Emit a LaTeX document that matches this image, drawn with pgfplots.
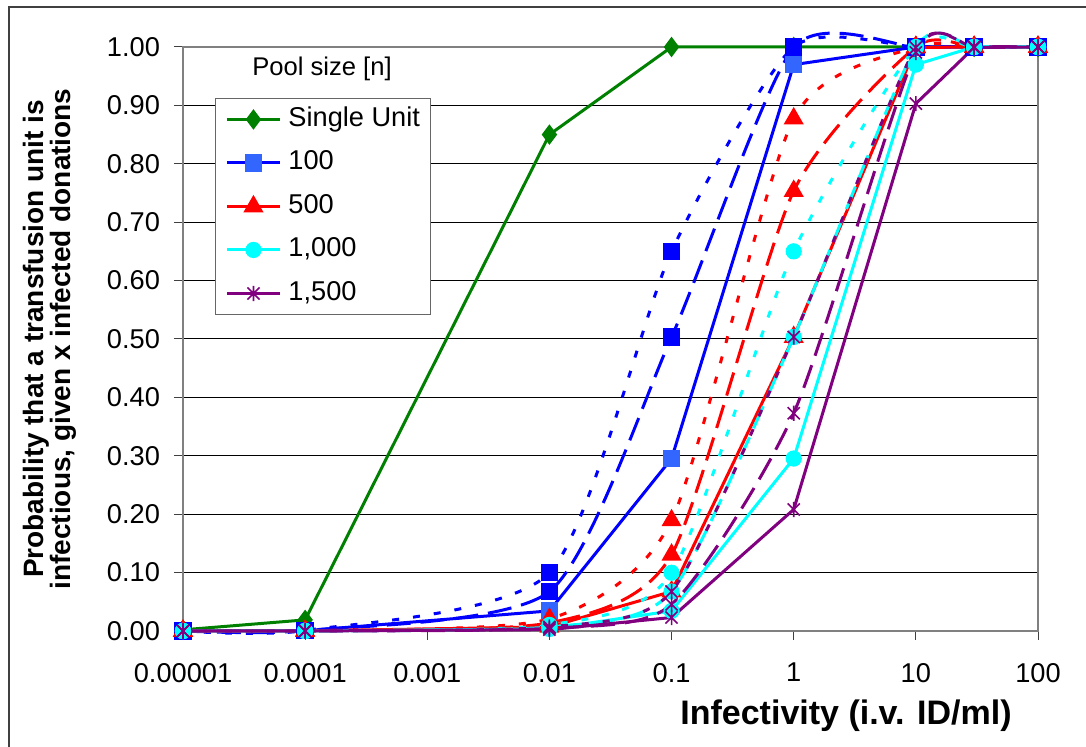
\documentclass[border=0pt]{standalone}
\usepackage{pgfplots}
\pgfplotsset{compat=1.18}
\usepackage{pgfplotstable}
\usepackage{fontspec}
\setmainfont{Liberation Sans}

\definecolor{xlgreen}{RGB}{0,128,0}
\definecolor{xlblue}{RGB}{0,0,255}
\definecolor{xlsky}{RGB}{51,102,255}
\definecolor{xlred}{RGB}{255,0,0}
\definecolor{xlcyan}{RGB}{0,255,255}
\definecolor{xlpurple}{RGB}{128,0,128}

% Excel-style star: X with a vertical stroke
\pgfdeclareplotmark{xstar}{%
  \pgfpathmoveto{\pgfqpoint{0pt}{-\pgfplotmarksize}}%
  \pgfpathlineto{\pgfqpoint{0pt}{\pgfplotmarksize}}%
  \pgfpathmoveto{\pgfqpoint{-.8\pgfplotmarksize}{-.8\pgfplotmarksize}}%
  \pgfpathlineto{\pgfqpoint{.8\pgfplotmarksize}{.8\pgfplotmarksize}}%
  \pgfpathmoveto{\pgfqpoint{-.8\pgfplotmarksize}{.8\pgfplotmarksize}}%
  \pgfpathlineto{\pgfqpoint{.8\pgfplotmarksize}{-.8\pgfplotmarksize}}%
  \pgfusepathqstroke}

% columns: a = pool 100, b = 500, c = 1,000, d = 1,500; 1/2/3 = infected donations
\pgfplotstableread{
x     su     a1     a2     a3     b1     b2     b3     c1     c2     c3     d1     d2     d3
1e-5  0.002  0.0000 0.0001 0.0001 0.0000 0.0000 0.0000 0.0000 0.0000 0.0000 0.0000 0.0000 0.0000
1e-4  0.019  0.0004 0.0007 0.0010 0.0001 0.0001 0.0002 0.0000 0.0001 0.0001 0.0000 0.0000 0.0001
0.01  0.850  0.0344 0.0676 0.0997 0.0070 0.0139 0.0208 0.0035 0.0070 0.0104 0.0023 0.0047 0.0070
0.1   1.000  0.2953 0.5034 0.6501 0.0676 0.1306 0.1894 0.0344 0.0676 0.0997 0.0231 0.0456 0.0676
1     1.000  0.9698 0.9991 1.0000 0.5034 0.7534 0.8775 0.2953 0.5034 0.6501 0.2081 0.3729 0.5034
10    1.000  1.0000 1.0000 1.0000 0.9991 1.0000 1.0000 0.9698 0.9991 1.0000 0.9030 0.9906 0.9991
30    1.000  1.0000 1.0000 1.0000 1.0000 1.0000 1.0000 1.0000 1.0000 1.0000 0.9991 1.0000 1.0000
100   1.000  1.0000 1.0000 1.0000 1.0000 1.0000 1.0000 1.0000 1.0000 1.0000 1.0000 1.0000 1.0000
}\prob

\begin{document}
\begin{tikzpicture}[
  ln/.style={line width=1.5pt},
  dsh/.style={line width=1.5pt, smooth, tension=0.4, dash pattern=on 12pt off 5pt},
  dot/.style={line width=1.5pt, smooth, tension=0.4, dash pattern=on 3.5pt off 7pt}]
\useasboundingbox (0,0) rectangle (543pt,373.5pt);
\draw[black!75, line width=1pt] (4.5pt,0pt) -- (4.5pt,370pt) -- (543pt,370pt);

\begin{axis}[at={(91.5pt,58pt)}, anchor=south west,
  scale only axis, width=427.5pt, height=292pt,
  xmode=log, xmin=1e-5, xmax=100, ymin=0, ymax=1,
  xtick={1e-5,1e-4,1e-3,1e-2,1e-1,1,10,100},
  xticklabels={0.00001,0.0001,0.001,0.01,0.1,1,10,100},
  xminorticks=false,
  ytick={0,0.1,0.2,0.3,0.4,0.5,0.6,0.7,0.8,0.9,1},
  /pgf/number format/assume math mode=true,
  ymajorgrids, grid style={black, line width=0.5pt},
  axis line style={gray, line width=0.75pt},
  tick align=outside, major tick length=4.5pt,
  tick style={black!75, line width=0.5pt},
  xtick pos=bottom, ytick pos=left,
  tick label style={font=\fontsize{13.6}{16}\selectfont},
  yticklabel style={/pgf/number format/fixed,/pgf/number format/fixed zerofill,
    /pgf/number format/precision=2, xshift=-3.5pt},
  xticklabel style={yshift=-8pt},
  clip=false,
  legend style={at={(0.0374,0.9127)}, anchor=north west,
    draw=black!60, line width=0.5pt, fill=white,
    font=\fontsize{13.6}{16}\selectfont,
    inner xsep=5pt, inner ysep=4pt, row sep=8.75pt, column sep=3.5pt,
    nodes={inner sep=0pt, text height=10pt, text depth=3pt}},
  legend cell align=left,
  legend image code/.code={\draw[mark repeat=2,mark phase=2]
    plot coordinates {(0pt,0pt) (13.25pt,0pt) (26.5pt,0pt)};},
  ]
\addplot[xlgreen, ln, mark=diamond*, mark size=3.9pt] table[y=su]{\prob};
% pool 100
\addplot[xlblue, ln, mark=square*, mark size=3.6pt,
  mark options={fill=xlsky, draw=xlsky}] table[y=a1]{\prob};
\addplot[xlblue, dsh, mark=square*, mark size=3.6pt,
  mark options={solid}, forget plot] table[y=a2]{\prob};
\addplot[xlblue, dot, mark=square*, mark size=3.6pt,
  mark options={solid}, forget plot] table[y=a3]{\prob};
% pool 500
\addplot[xlred, ln, mark=triangle*, mark size=4.3pt] table[y=b1]{\prob};
\addplot[xlred, dsh, mark=triangle*, mark size=4.3pt,
  mark options={solid}, forget plot] table[y=b2]{\prob};
\addplot[xlred, dot, mark=triangle*, mark size=4.3pt,
  mark options={solid}, forget plot] table[y=b3]{\prob};
% pool 1,000
\addplot[xlcyan, ln, mark=*, mark size=3.3pt] table[y=c1]{\prob};
\addplot[xlcyan, dsh, mark=*, mark size=3.3pt,
  mark options={solid}, forget plot] table[y=c2]{\prob};
\addplot[xlcyan, dot, mark=*, mark size=3.3pt,
  mark options={solid}, forget plot] table[y=c3]{\prob};
% pool 1,500
\addplot[xlpurple, ln, mark=xstar, mark size=3.8pt,
  mark options={line width=0.8pt}] table[y=d1]{\prob};
\addplot[xlpurple, dsh, mark=xstar, mark size=3.8pt,
  mark options={solid, line width=0.8pt}, forget plot] table[y=d2]{\prob};
\addplot[xlpurple, dot, mark=xstar, mark size=3.8pt,
  mark options={solid, line width=0.8pt}, forget plot] table[y=d3]{\prob};
\legend{Single Unit,100,500,{1,000},{1,500}}
\end{axis}

\node[font=\fontsize{12.8}{15}\selectfont] at (161pt,339pt) {Pool size [n]};
\node[rotate=90, align=center, font=\bfseries\fontsize{14}{13.5}\selectfont]
  at (25pt,204pt) {Probability that a transfusion unit is\\infectious, given x infected donations};
\node[font=\bfseries\fontsize{17}{20}\selectfont] at (423pt,15.5pt) {Infectivity (i.v. ID/ml)};
\end{tikzpicture}
\end{document}
